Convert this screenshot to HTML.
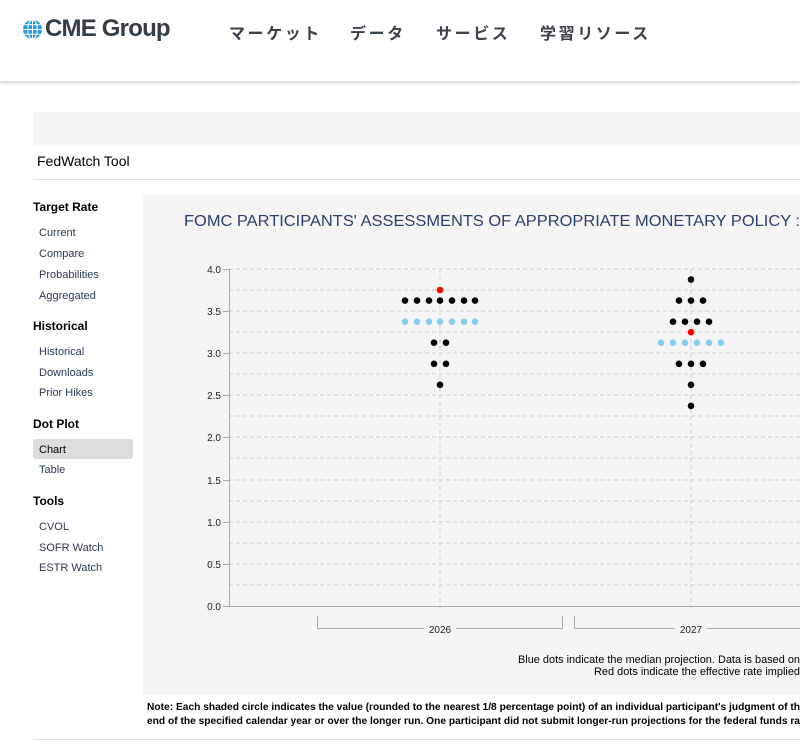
<!DOCTYPE html>
<html><head><meta charset="utf-8"><style>
*{margin:0;padding:0;box-sizing:border-box}
body{width:800px;height:750px;overflow:hidden;background:#fff;font-family:"Liberation Sans",Arial,sans-serif;position:relative}
.a{position:absolute;white-space:nowrap}
.nav{font-family:"Liberation Sans","Noto Sans CJK JP",sans-serif;font-size:16px;font-weight:bold;color:#3a424b;letter-spacing:2.6px;top:20px}
.h{font-size:12px;font-weight:bold;color:#000;left:33px}
.l{font-size:11px;color:#2a3a5a;left:39px}
</style></head><body>
<div class="a" style="left:0;top:0;width:800px;height:81px;background:#fff;box-shadow:0 2px 3px rgba(0,0,0,0.18)"></div>
<svg class="a" style="left:22px;top:19px" width="21" height="21" viewBox="0 0 22 22">
<circle cx="11" cy="11" r="10" fill="#2a9ad8"/>
<g stroke="#fff" stroke-width="1.1" fill="none"><line x1="1" y1="11" x2="21" y2="11"/><line x1="11" y1="1" x2="11" y2="21"/><line x1="2.5" y1="6" x2="19.5" y2="6"/><line x1="2.5" y1="16" x2="19.5" y2="16"/><ellipse cx="11" cy="11" rx="5" ry="10"/></g></svg>
<div class="a" style="left:45px;top:15px;font-size:24px;font-weight:bold;color:#333d47;letter-spacing:-0.8px">CME Group</div>
<div class="a nav" style="left:229px">マーケット</div>
<div class="a nav" style="left:350px">データ</div>
<div class="a nav" style="left:436px">サービス</div>
<div class="a nav" style="left:540px">学習リソース</div>
<div class="a" style="left:33px;top:112px;width:767px;height:33px;background:#f5f5f5"></div>
<div class="a" style="left:37px;top:153px;font-size:14px;color:#000">FedWatch Tool</div>
<div class="a" style="left:33px;top:179px;width:767px;height:1px;background:#ddd"></div>
<div class="a h" style="top:200px">Target Rate</div>
<div class="a l" style="top:227px">Current</div>
<div class="a l" style="top:248px">Compare</div>
<div class="a l" style="top:269px">Probabilities</div>
<div class="a l" style="top:290px">Aggregated</div>
<div class="a h" style="top:319px">Historical</div>
<div class="a l" style="top:346px">Historical</div>
<div class="a l" style="top:367px">Downloads</div>
<div class="a l" style="top:387px">Prior Hikes</div>
<div class="a h" style="top:417px">Dot Plot</div>
<div class="a" style="left:33px;top:439px;width:100px;height:20px;background:#dcdcdc;border-radius:3px"></div>
<div class="a l" style="top:444px;color:#000">Chart</div>
<div class="a l" style="top:464px">Table</div>
<div class="a h" style="top:494px">Tools</div>
<div class="a l" style="top:521px">CVOL</div>
<div class="a l" style="top:542px">SOFR Watch</div>
<div class="a l" style="top:562px">ESTR Watch</div>
<svg class="a" style="left:0;top:0" width="800" height="750" font-family="Liberation Sans,Arial,sans-serif">
<rect x="143" y="195" width="657" height="500" fill="#f5f5f5"/>
<text x="184" y="226" font-size="16" fill="#2b3f6e" textLength="616" lengthAdjust="spacingAndGlyphs">FOMC PARTICIPANTS' ASSESSMENTS OF APPROPRIATE MONETARY POLICY :</text>
<g stroke="#d0d0d0" stroke-dasharray="4,3" stroke-width="1">
<line x1="229" y1="269" x2="800" y2="269"/><line x1="229" y1="290" x2="800" y2="290"/><line x1="229" y1="311" x2="800" y2="311"/><line x1="229" y1="332" x2="800" y2="332"/><line x1="229" y1="353" x2="800" y2="353"/><line x1="229" y1="374" x2="800" y2="374"/><line x1="229" y1="395" x2="800" y2="395"/><line x1="229" y1="416" x2="800" y2="416"/><line x1="229" y1="437" x2="800" y2="437"/><line x1="229" y1="458" x2="800" y2="458"/><line x1="229" y1="480" x2="800" y2="480"/><line x1="229" y1="501" x2="800" y2="501"/><line x1="229" y1="522" x2="800" y2="522"/><line x1="229" y1="543" x2="800" y2="543"/><line x1="229" y1="564" x2="800" y2="564"/><line x1="229" y1="585" x2="800" y2="585"/>
<line x1="440" y1="269" x2="440" y2="612"/><line x1="691" y1="269" x2="691" y2="612"/>
</g>
<g stroke="#aaa" stroke-width="1" fill="none">
<line x1="229.5" y1="269" x2="229.5" y2="606"/><line x1="229" y1="606.5" x2="800" y2="606.5"/>
<line x1="223" y1="269.5" x2="229" y2="269.5"/><line x1="223" y1="311.5" x2="229" y2="311.5"/><line x1="223" y1="353.5" x2="229" y2="353.5"/><line x1="223" y1="395.5" x2="229" y2="395.5"/><line x1="223" y1="437.5" x2="229" y2="437.5"/><line x1="223" y1="480.5" x2="229" y2="480.5"/><line x1="223" y1="522.5" x2="229" y2="522.5"/><line x1="223" y1="564.5" x2="229" y2="564.5"/><line x1="223" y1="606.5" x2="229" y2="606.5"/>
<polyline points="317.5,616 317.5,628.5 562.5,628.5 562.5,616"/>
<polyline points="574.5,616 574.5,628.5 800,628.5"/>
</g>
<g font-size="10" fill="#222" text-anchor="end">
<text x="221" y="273">4.0</text><text x="221" y="315">3.5</text><text x="221" y="357">3.0</text><text x="221" y="399">2.5</text><text x="221" y="441">2.0</text><text x="221" y="484">1.5</text><text x="221" y="526">1.0</text><text x="221" y="568">0.5</text><text x="221" y="610">0.0</text>
</g>
<rect x="424" y="622" width="32" height="14" fill="#f5f5f5"/><rect x="675" y="622" width="32" height="14" fill="#f5f5f5"/>
<text x="440" y="633" font-size="10" text-anchor="middle" fill="#222">2026</text>
<text x="691" y="633" font-size="10" text-anchor="middle" fill="#222">2027</text>
<g fill="#000">
<circle cx="405" cy="300.6" r="3.3"/><circle cx="417" cy="300.6" r="3.3"/><circle cx="429" cy="300.6" r="3.3"/><circle cx="440" cy="300.6" r="3.3"/><circle cx="452" cy="300.6" r="3.3"/><circle cx="464" cy="300.6" r="3.3"/><circle cx="475" cy="300.6" r="3.3"/>
<circle cx="434" cy="342.7" r="3.3"/><circle cx="446" cy="342.7" r="3.3"/><circle cx="434" cy="363.8" r="3.3"/><circle cx="446" cy="363.8" r="3.3"/><circle cx="440" cy="384.8" r="3.3"/>
<circle cx="691" cy="279.5" r="3.3"/><circle cx="679" cy="300.6" r="3.3"/><circle cx="691" cy="300.6" r="3.3"/><circle cx="703" cy="300.6" r="3.3"/>
<circle cx="673" cy="321.7" r="3.3"/><circle cx="685" cy="321.7" r="3.3"/><circle cx="697" cy="321.7" r="3.3"/><circle cx="709" cy="321.7" r="3.3"/>
<circle cx="679" cy="363.8" r="3.3"/><circle cx="691" cy="363.8" r="3.3"/><circle cx="703" cy="363.8" r="3.3"/><circle cx="691" cy="384.8" r="3.3"/><circle cx="691" cy="405.9" r="3.3"/>
</g>
<g fill="#87ceeb">
<circle cx="405" cy="321.7" r="3.3"/><circle cx="417" cy="321.7" r="3.3"/><circle cx="429" cy="321.7" r="3.3"/><circle cx="440" cy="321.7" r="3.3"/><circle cx="452" cy="321.7" r="3.3"/><circle cx="464" cy="321.7" r="3.3"/><circle cx="475" cy="321.7" r="3.3"/>
<circle cx="661" cy="342.7" r="3.3"/><circle cx="673" cy="342.7" r="3.3"/><circle cx="685" cy="342.7" r="3.3"/><circle cx="697" cy="342.7" r="3.3"/><circle cx="709" cy="342.7" r="3.3"/><circle cx="721" cy="342.7" r="3.3"/>
</g>
<g fill="#f00"><circle cx="440" cy="290" r="3.3"/><circle cx="691" cy="332.2" r="3.3"/></g>
<text x="518" y="663" font-size="11" fill="#000" textLength="282" lengthAdjust="spacingAndGlyphs">Blue dots indicate the median projection. Data is based on</text>
<text x="594" y="675" font-size="11" fill="#000" textLength="206" lengthAdjust="spacingAndGlyphs">Red dots indicate the effective rate implied</text>
<text x="147" y="710" font-size="10" font-weight="bold" fill="#000" textLength="653" lengthAdjust="spacingAndGlyphs">Note: Each shaded circle indicates the value (rounded to the nearest 1/8 percentage point) of an individual participant's judgment of th</text>
<text x="147" y="724" font-size="10" font-weight="bold" fill="#000" textLength="653" lengthAdjust="spacingAndGlyphs">end of the specified calendar year or over the longer run. One participant did not submit longer-run projections for the federal funds ra</text>
<rect x="33" y="739" width="767" height="1" fill="#ddd"/>
</svg>
</body></html>
